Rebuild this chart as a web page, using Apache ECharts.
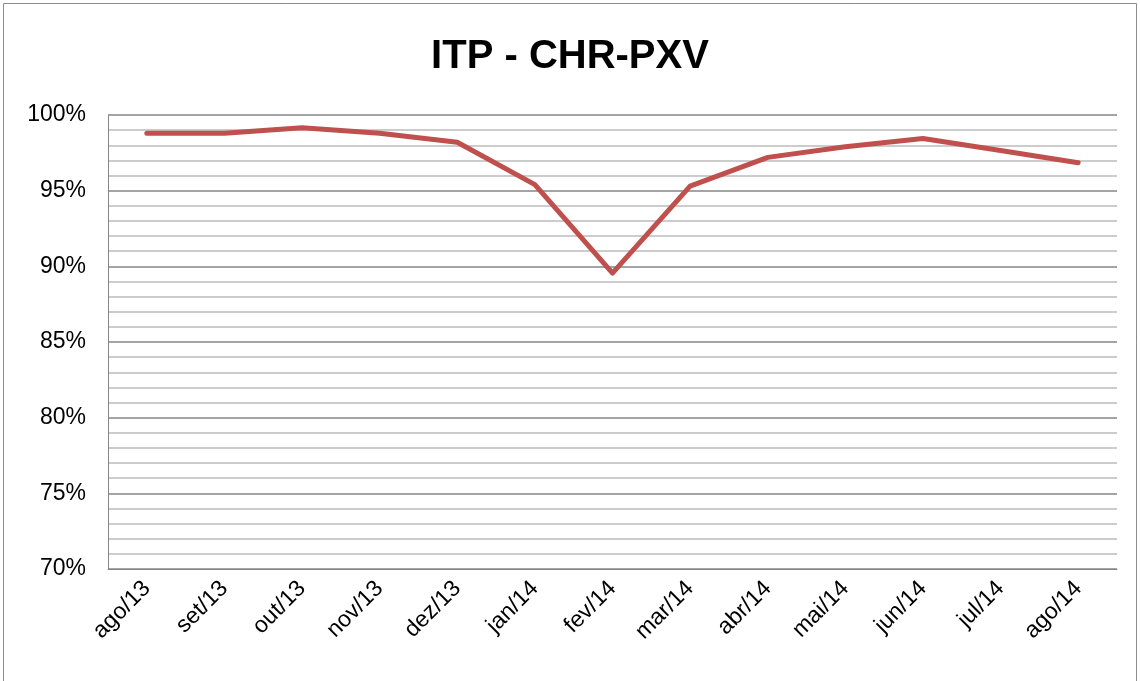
<!DOCTYPE html>
<html><head><meta charset="utf-8">
<script src="https://cdn.jsdelivr.net/npm/echarts@6/dist/echarts.min.js"></script>
<style>html,body{margin:0;padding:0;background:#fff}#c{width:1140px;height:681px}</style>
</head><body><div id="c"></div>
<script>
var categories = ['ago/13','set/13','out/13','nov/13','dez/13','jan/14','fev/14','mar/14','abr/14','mai/14','jun/14','jul/14','ago/14'];
var itpValues = [98.8, 98.8, 99.15, 98.8, 98.2, 95.4, 89.55, 95.3, 97.2, 97.9, 98.45, 97.65, 96.85];
var chart = echarts.init(document.getElementById('c'));
chart.setOption({
  backgroundColor: '#fff',
  animation: false,
  graphic: [{type:'rect', shape:{x:3.5,y:3.5,width:1133,height:690}, style:{fill:'none', stroke:'#8c8c8c', lineWidth:1}, silent:true}],
  title: {text:'ITP - CHR-PXV', left:'center', top:32, textStyle:{fontFamily:'Liberation Sans', fontWeight:'bold', fontSize:40, color:'#000'}},
  grid: {left:108, right:23, top:115, bottom:112},
  xAxis: {type:'category', data:categories, boundaryGap:true,
    axisLine:{lineStyle:{color:'#868686', width:1}}, axisTick:{show:false},
    axisLabel:{rotate:45, fontSize:23, fontFamily:'Liberation Sans', color:'#000', margin:16}},
  yAxis: {type:'value', min:70, max:100, interval:5,
    axisLine:{show:true, lineStyle:{color:'#868686', width:1}}, axisTick:{show:false},
    axisLabel:{formatter:'{value}%', fontSize:23, fontFamily:'Liberation Sans', color:'#000', margin:22},
    splitLine:{lineStyle:{color:'#868686', width:1.5}},
    minorTick:{show:false, splitNumber:5},
    minorSplitLine:{show:true, lineStyle:{color:'#bcbcbc', width:1.5}}},
  series: [{type:'line', data:itpValues, symbol:'none', lineStyle:{color:'#C0504D', width:5, cap:'round', join:'round'}}]
});
</script></body></html>
